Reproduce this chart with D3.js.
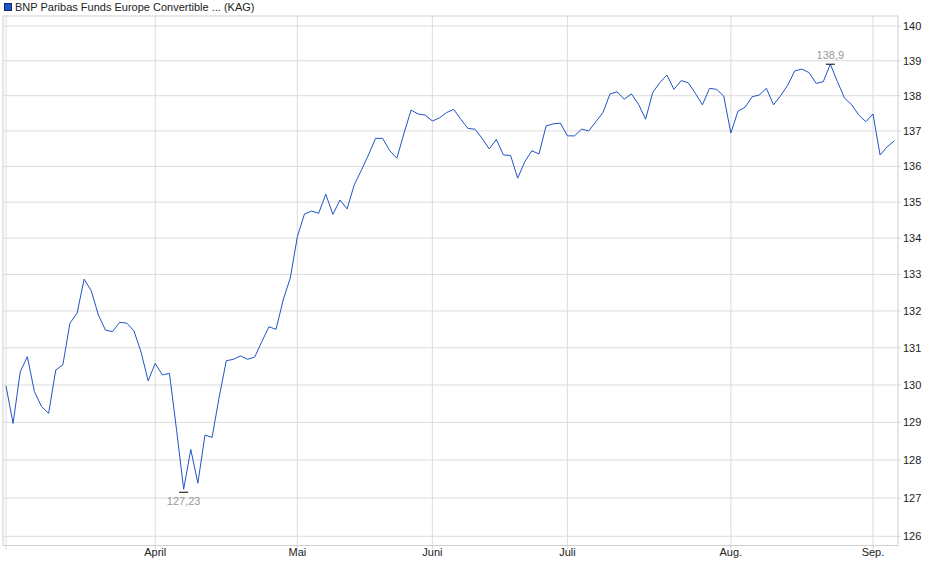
<!DOCTYPE html>
<html>
<head>
<meta charset="UTF-8"/>
<script src="https://d3js.org/d3.v7.min.js"></script>
<title>BNP Paribas Funds Europe Convertible</title>
<style>
body { margin: 0; background: #fff; }
svg text { font-family: "Liberation Sans", Arial, sans-serif; }
</style>
</head>
<body>
<svg id='chart' width=940 height=579></svg>
<script>
'use strict';

// daily prices, one per valuation day (early March .. early September)
var prices = [
	129.97, 128.97, 130.35, 130.76, 129.82, 129.42, 129.24, 130.40, 130.54, 131.67,
	131.94, 132.87, 132.55, 131.89, 131.48, 131.44, 131.69, 131.67, 131.46, 130.89,
	130.11, 130.58, 130.27, 130.31, 128.80, 127.23, 128.28, 127.39, 128.66, 128.60,
	129.68, 130.65, 130.69, 130.78, 130.69, 130.75, 131.17, 131.57, 131.50, 132.30,
	132.90, 134.04, 134.67, 134.75, 134.69, 135.22, 134.66, 135.06, 134.81, 135.48,
	135.89, 136.32, 136.79, 136.79, 136.44, 136.23, 136.93, 137.59, 137.48, 137.45,
	137.28, 137.37, 137.52, 137.61, 137.33, 137.07, 137.05, 136.79, 136.49, 136.76,
	136.32, 136.31, 135.67, 136.13, 136.44, 136.35, 137.14, 137.20, 137.22, 136.86,
	136.86, 137.05, 137.00, 137.26, 137.52, 138.05, 138.11, 137.90, 138.05, 137.76,
	137.33, 138.09, 138.37, 138.59, 138.18, 138.43, 138.37, 138.07, 137.74, 138.21,
	138.18, 137.99, 136.94, 137.56, 137.67, 137.97, 138.02, 138.21, 137.74, 138.00,
	138.30, 138.71, 138.76, 138.66, 138.35, 138.40, 138.90, 138.40, 137.93, 137.74,
	137.45, 137.26, 137.48, 136.32, 136.55, 136.72
];

// first valuation day of each month (index into prices)
var monthIndex = [0, 21, 41, 60, 79, 102, 122];
var monthLabels = ['', 'April', 'Mai', 'Juni', 'Juli', 'Aug.', 'Sep.'];

var yTicks = d3.range(126, 141);
var seriesName = 'BNP Paribas Funds Europe Convertible ... (KAG)';

function fmt(v){
	// german decimal comma, no trailing zeros
	return (+v.toFixed(2)).toString().replace('.', ',');
}

function main(){
	var svg = d3.select('#chart');
	var box = {left: 3, right: 898, top: 16, bottom: 545.5};

	var sx = d3.scaleLinear().domain([0, prices.length - 1]).range([6, 894.3]);
	var sy = d3.scaleLog().domain([126, 140]).range([536.3, 26]);

	// horizontal grid + right axis
	svg.selectAll('.rowline')
	.data(yTicks)
	.enter()
	.append('line')
	.attr('class', 'rowline')
	.attr('x1', box.left)
	.attr('x2', box.right + 3)
	.attr('y1', function(d){ return sy(d); })
	.attr('y2', function(d){ return sy(d); })
	.attr('stroke', '#dcdcdc')
	.attr('stroke-width', 1);

	svg.selectAll('.ylabel')
	.data(yTicks)
	.enter()
	.append('text')
	.attr('class', 'ylabel')
	.attr('x', 903)
	.attr('y', function(d){ return sy(d) + 4; })
	.attr('font-size', 11)
	.attr('fill', '#222')
	.text(function(d){ return d; });

	// vertical month lines
	svg.selectAll('.columnline')
	.data(monthIndex)
	.enter()
	.append('line')
	.attr('class', 'columnline')
	.attr('x1', function(d){ return sx(d); })
	.attr('x2', function(d){ return sx(d); })
	.attr('y1', box.top)
	.attr('y2', box.bottom + 4)
	.attr('stroke', '#dcdcdc')
	.attr('stroke-width', 1);

	svg.selectAll('.xlabel')
	.data(monthIndex)
	.enter()
	.append('text')
	.attr('class', 'xlabel')
	.attr('x', function(d){ return sx(d); })
	.attr('y', 556)
	.attr('text-anchor', 'middle')
	.attr('font-size', 11)
	.attr('fill', '#222')
	.text(function(d, i){ return monthLabels[i]; });

	// frame
	svg.append('rect')
	.attr('x', box.left)
	.attr('y', box.top)
	.attr('width', box.right - box.left)
	.attr('height', box.bottom - box.top)
	.attr('fill', 'none')
	.attr('stroke', '#d0d0d0')
	.attr('stroke-width', 1);

	// price line
	var line = d3.line()
	.x(function(d, i){ return sx(i); })
	.y(function(d){ return sy(d); });

	svg.append('path')
	.datum(prices)
	.attr('d', line)
	.attr('fill', 'none')
	.attr('stroke', '#1f55c4')
	.attr('stroke-width', 1);

	// min / max markers
	var iMin = d3.minIndex(prices), iMax = d3.maxIndex(prices);
	[[iMin, 13], [iMax, -5]].forEach(function(m){
		var x = sx(m[0]), y = sy(prices[m[0]]);
		svg.append('line')
		.attr('x1', x - 4.5).attr('x2', x + 4.5)
		.attr('y1', y + (m[1] > 0 ? 3 : 0)).attr('y2', y + (m[1] > 0 ? 3 : 0))
		.attr('stroke', '#000')
		.attr('stroke-width', 1);
		svg.append('text')
		.attr('x', x)
		.attr('y', y + m[1] + (m[1] > 0 ? 3 : 0))
		.attr('text-anchor', 'middle')
		.attr('font-size', 11)
		.attr('fill', '#999')
		.text(fmt(prices[m[0]]));
	});

	// legend
	svg.append('rect')
	.attr('x', 4.5).attr('y', 3.5)
	.attr('width', 7).attr('height', 7)
	.attr('fill', '#1f55c4')
	.attr('stroke', '#0b2a6b');
	svg.append('text')
	.attr('x', 15)
	.attr('y', 11)
	.attr('font-size', 11)
	.attr('fill', '#222')
	.text(seriesName);
}

main();
</script>
</body>
</html>
